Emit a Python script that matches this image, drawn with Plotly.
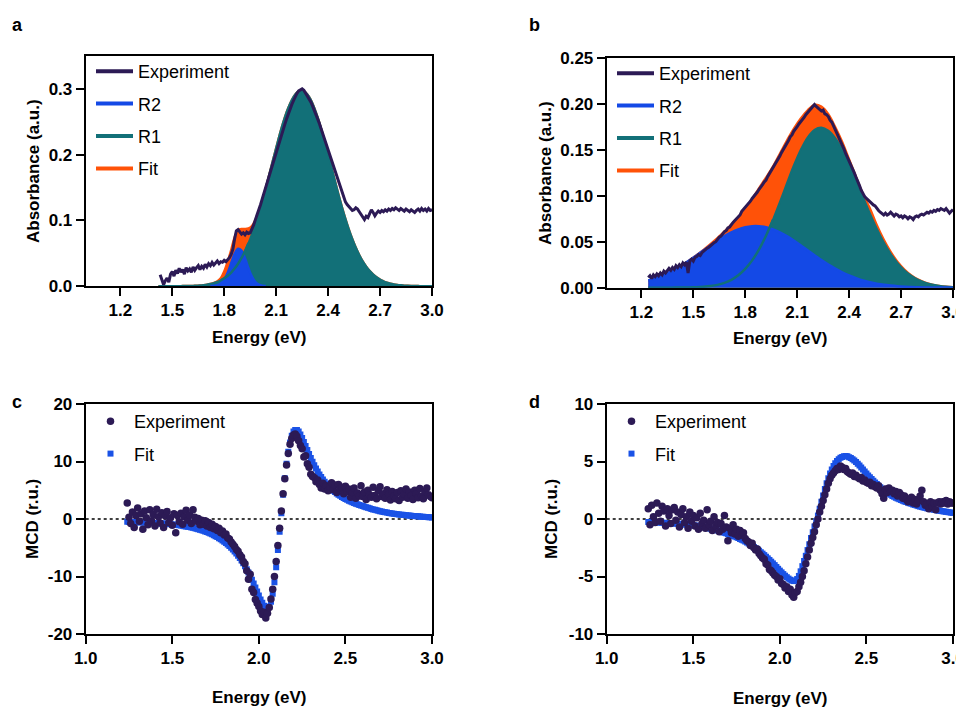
import numpy as np
import plotly.graph_objects as go

FONT = "Liberation Sans, Arial, Helvetica, sans-serif"
EXP_C = "#2c1a55"
R2_C = "#1449e6"
R1_C = "#127078"
FIT_C = "#ff5208"
FITM_C = "#1a52e6"

# ---------------- Panel a : absorbance ----------------
A_EXP_START, A_EXP_STEP = 1.43, 0.01
a_exp = [0.017, 0.010, 0.002, 0.008, 0.012, 0.006, 0.018, 0.022, 0.015, 0.024,
         0.019, 0.027, 0.021, 0.025, 0.018, 0.028, 0.023, 0.026, 0.021, 0.029,
         0.024, 0.028, 0.031, 0.025, 0.030, 0.027, 0.033, 0.029, 0.034, 0.031,
         0.036, 0.032, 0.035, 0.038, 0.034, 0.037, 0.036, 0.039, 0.037, 0.040,
         0.043, 0.048, 0.056, 0.072, 0.084, 0.086, 0.082, 0.079, 0.081, 0.078,
         0.082, 0.080, 0.081, 0.086, 0.093, 0.101, 0.108, 0.116, 0.124, 0.133,
         0.142, 0.151, 0.159, 0.168, 0.177, 0.187, 0.196, 0.205, 0.213, 0.222,
         0.230, 0.238, 0.246, 0.254, 0.262, 0.269, 0.276, 0.282, 0.288, 0.293,
         0.297, 0.299, 0.300, 0.298, 0.294, 0.290, 0.285, 0.280, 0.274, 0.268,
         0.261, 0.254, 0.247, 0.239, 0.231, 0.223, 0.215, 0.207, 0.199, 0.191,
         0.183, 0.175, 0.167, 0.159, 0.150, 0.141, 0.134, 0.128, 0.124, 0.120,
         0.118, 0.115, 0.116, 0.119, 0.117, 0.113, 0.109, 0.104, 0.101, 0.106,
         0.104, 0.110, 0.116, 0.112, 0.107, 0.111, 0.114, 0.112, 0.115, 0.113,
         0.116, 0.114, 0.117, 0.115, 0.118, 0.116, 0.119, 0.117, 0.115, 0.118,
         0.116, 0.114, 0.117, 0.115, 0.113, 0.116, 0.114, 0.112, 0.115, 0.117,
         0.114, 0.118, 0.115, 0.117, 0.114, 0.118, 0.115, 0.116]

A_CMP_START, A_CMP_STEP = 1.42, 0.02
a_r1 = [0, 0, 0, 0, 0.0001, 0.0001, 0.0001, 0.0002, 0.0002, 0.0003,
        0.0005, 0.0008, 0.0011, 0.0016, 0.0023, 0.0033, 0.0047, 0.0064, 0.0087, 0.0118,
        0.0156, 0.0205, 0.0265, 0.0339, 0.0427, 0.0531, 0.0653, 0.0791, 0.0947, 0.112,
        0.1304, 0.150, 0.1704, 0.191, 0.211, 0.231, 0.249, 0.265, 0.278, 0.288,
        0.295, 0.298, 0.297, 0.292, 0.284, 0.272, 0.257, 0.240, 0.221, 0.201,
        0.181, 0.160, 0.140, 0.121, 0.103, 0.0867, 0.072, 0.059, 0.0477, 0.038,
        0.030, 0.0233, 0.0179, 0.0136, 0.010, 0.0075, 0.0055, 0.0039, 0.0028, 0.002,
        0.0014, 0.0009, 0.0006, 0.0004, 0.0003, 0.0002, 0.0001, 0.0001, 0, 0]
a_fit = [0, 0, 0, 0, 0.0001, 0.0001, 0.0001, 0.0002, 0.0002, 0.0003,
         0.0005, 0.0008, 0.0011, 0.0016, 0.0023, 0.0034, 0.0050, 0.0076, 0.0125, 0.0230,
         0.038, 0.056, 0.075, 0.085, 0.087, 0.087, 0.088, 0.092, 0.1008, 0.1142,
         0.131, 0.1501, 0.1704, 0.191, 0.211, 0.231, 0.249, 0.265, 0.278, 0.288,
         0.295, 0.298, 0.297, 0.292, 0.284, 0.272, 0.257, 0.240, 0.221, 0.201,
         0.181, 0.160, 0.140, 0.121, 0.103, 0.0867, 0.072, 0.059, 0.0477, 0.038,
         0.030, 0.0233, 0.0179, 0.0136, 0.010, 0.0075, 0.0055, 0.0039, 0.0028, 0.002,
         0.0014, 0.0009, 0.0006, 0.0004, 0.0003, 0.0002, 0.0001, 0.0001, 0, 0]
A_R2_START, A_R2_STEP = 1.72, 0.02
a_r2 = [0.0001, 0.0003, 0.0012, 0.0038, 0.0096, 0.020, 0.0346, 0.0489, 0.0567,
        0.0539, 0.0421, 0.027, 0.0142, 0.0061, 0.0022, 0.0006, 0.0001]

# ---------------- Panel b : absorbance ----------------
B_EXP_START, B_EXP_STEP = 1.24, 0.01
b_exp = [0.011, 0.013, 0.010, 0.014, 0.012, 0.015, 0.013, 0.016, 0.014, 0.018,
         0.016, 0.019, 0.021, 0.019, 0.022, 0.020, 0.024, 0.022, 0.025, 0.023,
         0.027, 0.025, 0.028, 0.016, 0.029, 0.031, 0.029, 0.033, 0.034, 0.036,
         0.035, 0.038, 0.040, 0.041, 0.043, 0.044, 0.046, 0.047, 0.049, 0.050,
         0.053, 0.055, 0.056, 0.059, 0.061, 0.062, 0.065, 0.066, 0.069, 0.071,
         0.073, 0.075, 0.078, 0.079, 0.083, 0.085, 0.087, 0.089, 0.092, 0.094,
         0.097, 0.099, 0.102, 0.104, 0.107, 0.109, 0.112, 0.115, 0.117, 0.121,
         0.124, 0.127, 0.130, 0.133, 0.137, 0.140, 0.143, 0.147, 0.150, 0.154,
         0.157, 0.160, 0.164, 0.166, 0.170, 0.172, 0.175, 0.178, 0.180, 0.183,
         0.185, 0.188, 0.190, 0.192, 0.195, 0.196, 0.199, 0.197, 0.195, 0.194,
         0.192, 0.193, 0.189, 0.188, 0.186, 0.182, 0.180, 0.176, 0.172, 0.168,
         0.164, 0.159, 0.155, 0.151, 0.146, 0.142, 0.137, 0.133, 0.129, 0.125,
         0.120, 0.116, 0.111, 0.106, 0.102, 0.099, 0.097, 0.095, 0.093, 0.092,
         0.090, 0.089, 0.086, 0.084, 0.082, 0.080, 0.079, 0.081, 0.079, 0.080,
         0.082, 0.080, 0.078, 0.080, 0.079, 0.077, 0.078, 0.076, 0.078, 0.077,
         0.075, 0.077, 0.076, 0.074, 0.077, 0.078, 0.077, 0.079, 0.080, 0.079,
         0.081, 0.082, 0.081, 0.083, 0.082, 0.084, 0.083, 0.085, 0.084, 0.086,
         0.085, 0.084, 0.086, 0.083, 0.081, 0.083, 0.085]

B_CMP_START, B_CMP_STEP = 1.24, 0.04
b_r2 = [0.0079, 0.0103, 0.0133, 0.0167, 0.0207, 0.0251, 0.030, 0.0353, 0.0406, 0.046,
        0.0512, 0.056, 0.0601, 0.0634, 0.0657, 0.0669, 0.0669, 0.0657, 0.0634, 0.0601,
        0.056, 0.0512, 0.046, 0.0406, 0.0353, 0.030, 0.0251, 0.0207, 0.0167, 0.0133,
        0.0103, 0.0079, 0.006, 0.0044, 0.0032, 0.0023, 0.0016, 0.0011, 0.0007, 0.0005,
        0.0003, 0.0002, 0.0001, 0.0001, 0.0]
b_r1 = [0, 0, 0, 0, 0.0001, 0.0001, 0.0003, 0.0005, 0.001, 0.0018,
        0.0031, 0.0053, 0.0086, 0.0135, 0.0204, 0.0297, 0.0417, 0.0565, 0.0738, 0.093,
        0.1131, 0.1326, 0.1498, 0.1633, 0.1716, 0.1740, 0.1707, 0.1625, 0.1501, 0.1345,
        0.117, 0.0987, 0.0807, 0.0641, 0.0494, 0.0369, 0.0268, 0.0188, 0.0129, 0.0085,
        0.0055, 0.0034, 0.0021, 0.0012, 0.0007]
b_fit = [0.0079, 0.0103, 0.0133, 0.0167, 0.0208, 0.0252, 0.0303, 0.0358, 0.0416, 0.0478,
         0.0543, 0.0613, 0.0687, 0.0769, 0.0861, 0.0966, 0.1086, 0.1200, 0.1320, 0.1460,
         0.1600, 0.1730, 0.1840, 0.1930, 0.1990, 0.1970, 0.1890, 0.1750, 0.1590, 0.1400,
         0.1210, 0.1020, 0.0867, 0.0685, 0.0526, 0.0392, 0.0284, 0.0199, 0.0136, 0.009,
         0.0058, 0.0036, 0.0022, 0.0013, 0.0007]

# ---------------- Panel c : MCD ----------------
C_START, C_STEP = 1.24, 0.01
c_exp = [2.8, 0.3, -0.8, 1.2, -1.5, 0.6, 1.9, -0.4, 0.9, -1.8,
         1.4, 0.2, -1.0, 1.6, -0.3, 0.8, -1.2, 1.7, 0.4, -0.7,
         1.1, -1.5, 0.5, 1.3, -0.6, 0.2, -1.1, 0.9, -2.4, 0.6,
         -0.5, 1.0, -0.9, 0.4, 1.5, -0.2, 0.7, -0.8, 1.6, 0.3,
         -0.4, 0.1, -1.0, -0.2, -0.9, -0.3, -1.2, -0.6, -1.5, -0.9,
         -1.7, -1.3, -2.0, -1.6, -2.4, -2.1, -2.8, -2.6, -3.3, -3.5,
         -4.0, -4.4, -4.8, -5.3, -5.6, -6.2, -6.6, -7.4, -7.8, -9.0,
         -10.5, -9.6, -12.2, -12.8, -14.0, -14.6, -15.2, -16.0, -16.6, -16.2,
         -17.2, -16.4, -15.4, -13.9, -12.2, -10.0, -7.4, -4.6, -1.6, 1.4,
         4.4, 7.0, 9.4, 11.4, 13.0, 14.0, 14.6, 14.8, 14.4, 13.6,
         12.8, 12.2, 10.8, 11.0, 9.6, 9.0, 7.8, 7.4, 7.2, 6.5,
         6.8, 6.0, 5.4, 6.2, 5.2, 5.8, 4.9, 5.6, 6.3, 5.1,
         5.9, 4.6, 6.0, 5.3, 5.5, 4.4, 5.7, 4.8, 5.2, 3.8,
         4.6, 5.4, 3.6, 4.5, 4.0, 5.8, 3.9, 4.7, 3.4, 5.0,
         4.2, 3.8, 5.5, 4.1, 3.5, 4.9, 5.6, 3.9, 4.4, 3.6,
         5.1, 4.3, 3.3, 4.8, 4.0, 3.5, 4.6, 3.2, 4.9, 3.8,
         4.3, 5.2, 3.6, 4.7, 4.1, 3.4, 5.0, 4.4, 3.7, 5.3,
         4.0, 3.5, 4.8, 5.4, 4.2, 3.9, 3.7]
c_fit = [-0.50, -0.51, -0.52, -0.53, -0.54, -0.55, -0.56, -0.57, -0.58, -0.59,
         -0.60, -0.62, -0.63, -0.65, -0.66, -0.68, -0.70, -0.72, -0.74, -0.76,
         -0.78, -0.80, -0.83, -0.86, -0.89, -0.92, -0.95, -0.98, -1.02, -1.06,
         -1.10, -1.14, -1.19, -1.24, -1.29, -1.35, -1.41, -1.47, -1.54, -1.61,
         -1.69, -1.77, -1.86, -1.95, -2.05, -2.16, -2.28, -2.40, -2.53, -2.67,
         -2.82, -2.98, -3.15, -3.33, -3.52, -3.73, -3.95, -4.19, -4.44, -4.71,
         -5.00, -5.31, -5.64, -6.00, -6.38, -6.79, -7.23, -7.70, -8.20, -8.74,
         -9.31, -9.92, -10.56, -11.23, -11.93, -12.63, -13.32, -13.98, -14.58, -15.08,
         -15.42, -15.50, -15.20, -14.40, -13.00, -11.00, -8.40, -5.40, -2.20, 1.00,
         4.20, 7.10, 9.60, 11.70, 13.30, 14.50, 15.20, 15.50, 15.50, 15.20,
         14.70, 14.10, 13.40, 12.70, 12.00, 11.30, 10.60, 9.95, 9.35, 8.78,
         8.25, 7.76, 7.30, 6.88, 6.49, 6.13, 5.80, 5.49, 5.20, 4.93,
         4.68, 4.45, 4.23, 4.03, 3.84, 3.66, 3.49, 3.33, 3.18, 3.04,
         2.91, 2.78, 2.66, 2.55, 2.44, 2.34, 2.24, 2.14, 2.04, 1.94,
         1.85, 1.76, 1.67, 1.59, 1.51, 1.43, 1.36, 1.29, 1.23, 1.17,
         1.11, 1.06, 1.01, 0.96, 0.92, 0.88, 0.84, 0.80, 0.76, 0.73,
         0.70, 0.66, 0.63, 0.60, 0.57, 0.54, 0.51, 0.48, 0.46, 0.43,
         0.41, 0.38, 0.36, 0.34, 0.31, 0.29, 0.27]

# ---------------- Panel d : MCD ----------------
D_START, D_STEP = 1.24, 0.01
d_exp = [0.9, -0.5, 1.2, 0.2, -0.3, 1.4, 0.5, -0.2, 1.1, 0.7,
         -0.6, 0.9, 0.3, -0.4, 0.8, 1.0, -0.1, 0.6, -0.7, 0.4,
         0.9, -0.3, 0.2, -0.8, 0.6, -0.2, 0.3, -0.6, 0.1, -0.9,
         0.5, -0.4, -0.1, -0.8, 0.8, -0.5, -0.2, -1.0, 0.2, -0.6,
         -0.3, -1.1, -0.4, -0.9, 0.3, -0.7, -1.9, -0.8, -1.2, -0.5,
         -1.3, -0.9, -1.5, -1.0, -1.4, -1.2, -1.7, -1.9, -2.0, -2.3,
         -2.1, -2.5, -2.7, -2.6, -3.0, -3.2, -3.4, -3.5, -3.9, -4.0,
         -4.4, -4.5, -4.7, -4.9, -5.0, -5.3, -5.2, -5.6, -5.7, -6.0,
         -5.9, -6.3, -6.1, -6.6, -6.8, -6.4, -6.3, -5.9, -5.5, -5.0,
         -4.5, -3.9, -3.3, -2.7, -2.1, -1.6, -1.1, -0.5, 0.0, 0.6,
         1.1, 1.6, 2.1, 2.6, 3.1, 3.5, 3.8, 4.0, 4.2, 4.4,
         4.3, 4.6, 4.5, 4.3, 4.4, 4.1, 4.0, 3.9, 4.0, 3.7,
         3.8, 3.6, 3.5, 3.6, 3.3, 3.4, 3.2, 3.1, 3.2, 2.9,
         3.0, 2.8, 2.7, 2.9, 2.5, 2.2, 1.8, 2.6, 2.3, 2.7,
         2.4, 2.5, 2.2, 2.4, 2.0, 2.3, 2.1, 1.8, 2.0, 1.7,
         1.5, 1.6, 1.9, 1.4, 1.7, 1.3, 1.6, 2.0, 2.5, 1.5,
         1.2, 1.3, 0.9, 1.5, 1.1, 1.4, 0.8, 1.4, 1.5, 1.3,
         1.5, 1.4, 1.6, 1.3, 1.5, 1.4, 1.4]
d_fit = [-0.26, -0.27, -0.27, -0.28, -0.29, -0.29, -0.30, -0.31, -0.32, -0.33,
         -0.34, -0.35, -0.36, -0.37, -0.38, -0.39, -0.40, -0.41, -0.42, -0.44,
         -0.45, -0.47, -0.48, -0.50, -0.52, -0.53, -0.55, -0.57, -0.59, -0.62,
         -0.64, -0.67, -0.70, -0.73, -0.76, -0.80, -0.84, -0.88, -0.92, -0.96,
         -1.00, -1.05, -1.10, -1.15, -1.20, -1.25, -1.30, -1.35, -1.41, -1.47,
         -1.53, -1.59, -1.66, -1.73, -1.80, -1.87, -1.95, -2.04, -2.13, -2.22,
         -2.32, -2.43, -2.54, -2.65, -2.77, -2.89, -3.01, -3.14, -3.28, -3.42,
         -3.56, -3.71, -3.86, -4.01, -4.17, -4.33, -4.49, -4.64, -4.79, -4.93,
         -5.06, -5.18, -5.28, -5.36, -5.40, -5.36, -5.22, -4.95, -4.55, -4.10,
         -3.65, -3.20, -2.70, -2.20, -1.65, -1.15, -0.65, -0.20, 0.30, 0.90,
         1.50, 2.05, 2.60, 3.10, 3.55, 3.95, 4.30, 4.60, 4.85, 5.05,
         5.20, 5.32, 5.40, 5.45, 5.47, 5.45, 5.38, 5.30, 5.20, 5.08,
         4.95, 4.80, 4.65, 4.48, 4.30, 4.13, 3.95, 3.78, 3.62, 3.47,
         3.32, 3.18, 3.04, 2.90, 2.77, 2.64, 2.52, 2.41, 2.30, 2.20,
         2.10, 2.01, 1.93, 1.85, 1.78, 1.71, 1.65, 1.59, 1.53, 1.47,
         1.42, 1.37, 1.32, 1.27, 1.22, 1.17, 1.12, 1.08, 1.04, 1.00,
         0.97, 0.93, 0.90, 0.87, 0.84, 0.81, 0.78, 0.75, 0.72, 0.70,
         0.67, 0.65, 0.62, 0.60, 0.58, 0.55, 0.53]

# ---------------- ticks ----------------
abs_xticks = [1.2, 1.5, 1.8, 2.1, 2.4, 2.7, 3.0]
abs_xlabels = ["1.2", "1.5", "1.8", "2.1", "2.4", "2.7", "3.0"]
mcd_xticks = [1.0, 1.5, 2.0, 2.5, 3.0]
mcd_xlabels = ["1.0", "1.5", "2.0", "2.5", "3.0"]
a_yticks = [0, 0.1, 0.2, 0.3]
a_ylabels = ["0.0", "0.1", "0.2", "0.3"]
b_yticks = [0, 0.05, 0.10, 0.15, 0.20, 0.25]
b_ylabels = ["0.00", "0.05", "0.10", "0.15", "0.20", "0.25"]
c_yticks = [-20, -10, 0, 10, 20]
c_ylabels = ["-20", "-10", "0", "10", "20"]
d_yticks = [-10, -5, 0, 5, 10]
d_ylabels = ["-10", "-5", "0", "5", "10"]


def energy(start, step, n):
    return np.round(start + step * np.arange(n), 3)


# The page body has an 8px margin, so the figure is sized to end exactly at the window edge
OFF = 8
W, H = 964 - OFF, 707 - OFF


def px_x(v):
    return (v - OFF) / W


def px_y(v):
    return 1 - (v - OFF) / H


fig = go.Figure()


def absorbance_panel(xa, ya, leg, exp_x, exp_y, cx, r1, r2x, r2, fit, overlay_mask):
    kw = dict(xaxis=xa, yaxis=ya, showlegend=False, hoverinfo="skip")
    fig.add_trace(go.Scatter(x=cx, y=fit, mode="lines", fill="tozeroy", fillcolor=FIT_C,
                             line=dict(color=FIT_C, width=2, shape="spline"), **kw))
    fig.add_trace(go.Scatter(x=cx, y=r1, mode="lines", fill="tozeroy", fillcolor=R1_C,
                             line=dict(color=R1_C, width=2, shape="spline"), **kw))
    fig.add_trace(go.Scatter(x=r2x, y=r2, mode="lines", fill="tozeroy", fillcolor=R2_C,
                             line=dict(color=R2_C, width=2.5, shape="spline"), **kw))
    ox = [x for x, m in zip(cx, overlay_mask) if m]
    oy = [y for y, m in zip(r1, overlay_mask) if m]
    fig.add_trace(go.Scatter(x=ox, y=oy, mode="lines",
                             line=dict(color=R1_C, width=2.5, shape="spline"), **kw))
    fig.add_trace(go.Scatter(x=exp_x, y=exp_y, mode="lines",
                             line=dict(color=EXP_C, width=3), **kw))
    # legend entries (line samples)
    for i, (name, col) in enumerate([("Experiment", EXP_C), ("R2", R2_C), ("R1", R1_C), ("Fit", FIT_C)]):
        fig.add_trace(go.Scatter(x=[None], y=[None], mode="lines", name=name,
                                 line=dict(color=col, width=4), xaxis=xa, yaxis=ya,
                                 legend=leg, legendgroup=leg + name, legendrank=i + 1,
                                 showlegend=True))


xa_c = energy(A_CMP_START, A_CMP_STEP, len(a_r1))
absorbance_panel("x", "y", "legend",
                 energy(A_EXP_START, A_EXP_STEP, len(a_exp)), a_exp,
                 xa_c, a_r1, energy(A_R2_START, A_R2_STEP, len(a_r2)), a_r2, a_fit,
                 [(1.78 <= x <= 1.94) for x in xa_c])

xb_c = energy(B_CMP_START, B_CMP_STEP, len(b_r1))
absorbance_panel("x2", "y2", "legend2",
                 energy(B_EXP_START, B_EXP_STEP, len(b_exp)), b_exp,
                 xb_c, b_r1, xb_c, b_r2, b_fit,
                 [(x <= 1.96) for x in xb_c])


def mcd_panel(xa, ya, leg, x_e, y_e, x_f, y_f):
    fig.add_trace(go.Scatter(x=x_f, y=y_f, mode="markers", name="Fit",
                             marker=dict(symbol="square", size=6, color=FITM_C, line=dict(width=0)),
                             xaxis=xa, yaxis=ya, legend=leg, legendgroup=leg + "fit",
                             legendrank=2, hoverinfo="skip"))
    fig.add_trace(go.Scatter(x=x_e, y=y_e, mode="markers", name="Experiment",
                             marker=dict(symbol="circle", size=7.5, color=EXP_C, line=dict(width=0)),
                             xaxis=xa, yaxis=ya, legend=leg, legendgroup=leg + "exp",
                             legendrank=1, hoverinfo="skip"))


mcd_panel("x3", "y3", "legend3", energy(C_START, C_STEP, len(c_exp)), c_exp,
          energy(C_START, C_STEP, len(c_fit)), c_fit)
mcd_panel("x4", "y4", "legend4", energy(D_START, D_STEP, len(d_exp)), d_exp,
          energy(D_START, D_STEP, len(d_fit)), d_fit)

TICKFONT = dict(family=FONT, size=17, color="black", weight="bold")


def ax(domain, rng, tickvals, ticktext, anchor):
    return dict(domain=domain, range=rng, tickmode="array", tickvals=tickvals, ticktext=ticktext,
                ticks="outside", ticklen=8, tickwidth=2, tickcolor="black",
                showline=True, linewidth=2, linecolor="black", mirror=True,
                showgrid=False, zeroline=False, automargin=False, anchor=anchor,
                tickfont=TICKFONT, fixedrange=True, ticklabeloverflow="allow")


XL = [px_x(85.7), px_x(432)]
XR = [px_x(606.7), px_x(953)]
YA = [px_y(286), px_y(56)]
YB = [px_y(287.7), px_y(57.7)]
YC = [px_y(634), px_y(404)]

LEGFONT = dict(family=FONT, size=18, color="black")


def legend_at(xpx, ypx):
    return dict(x=px_x(xpx), y=px_y(ypx), xanchor="left", yanchor="top",
                xref="paper", yref="paper", bgcolor="rgba(0,0,0,0)", borderwidth=0,
                font=LEGFONT, traceorder="grouped", tracegroupgap=6, itemwidth=37)


def title_ann(text, xpx, ypx, angle=0, size=17):
    return dict(text=text, x=px_x(xpx), y=px_y(ypx), xref="paper", yref="paper",
                showarrow=False, textangle=angle, xanchor="center", yanchor="middle",
                font=dict(family=FONT, size=size, color="black", weight="bold"))


annotations = [
    title_ann("a", 17, 25, size=18), title_ann("b", 534, 25, size=18),
    title_ann("c", 17, 402, size=18), title_ann("d", 534, 402, size=18),
    title_ann("Energy (eV)", 259, 337), title_ann("Energy (eV)", 780, 338),
    title_ann("Energy (eV)", 259, 697), title_ann("Energy (eV)", 780, 698),
    title_ann("Absorbance (a.u.)", 34, 171, -90), title_ann("Absorbance (a.u.)", 545, 173, -90),
    title_ann("MCD (r.u.)", 32, 519, -90), title_ann("MCD (r.u.)", 551, 519, -90),
]

shapes = [
    dict(type="line", xref="x3 domain", yref="y3", x0=0, x1=1, y0=0, y1=0,
         line=dict(color="black", width=1.6, dash="dot"), layer="below"),
    dict(type="line", xref="x4 domain", yref="y4", x0=0, x1=1, y0=0, y1=0,
         line=dict(color="black", width=1.6, dash="dot"), layer="below"),
]

fig.update_layout(
    template="none",
    width=W, height=H,
    margin=dict(l=0, r=0, t=0, b=0),
    paper_bgcolor="white", plot_bgcolor="white",
    font=dict(family=FONT, color="black"),
    showlegend=True,
    xaxis=ax(XL, [1.0, 3.0], abs_xticks, abs_xlabels, "y"),
    yaxis=ax(YA, [0, 0.35], a_yticks, a_ylabels, "x"),
    xaxis2=ax(XR, [1.0, 3.0], abs_xticks, abs_xlabels, "y2"),
    yaxis2=ax(YB, [0, 0.25], b_yticks, b_ylabels, "x2"),
    xaxis3=ax(XL, [1.0, 3.0], mcd_xticks, mcd_xlabels, "y3"),
    yaxis3=ax(YC, [-20, 20], c_yticks, c_ylabels, "x3"),
    xaxis4=ax(XR, [1.0, 3.0], mcd_xticks, mcd_xlabels, "y4"),
    yaxis4=ax(YC, [-10, 10], d_yticks, d_ylabels, "x4"),
    legend=legend_at(91, 53),
    legend2=legend_at(612, 55),
    legend3=legend_at(87, 403),
    legend4=legend_at(608, 403),
    annotations=annotations,
    shapes=shapes,
)

fig.write_html("out.html")
